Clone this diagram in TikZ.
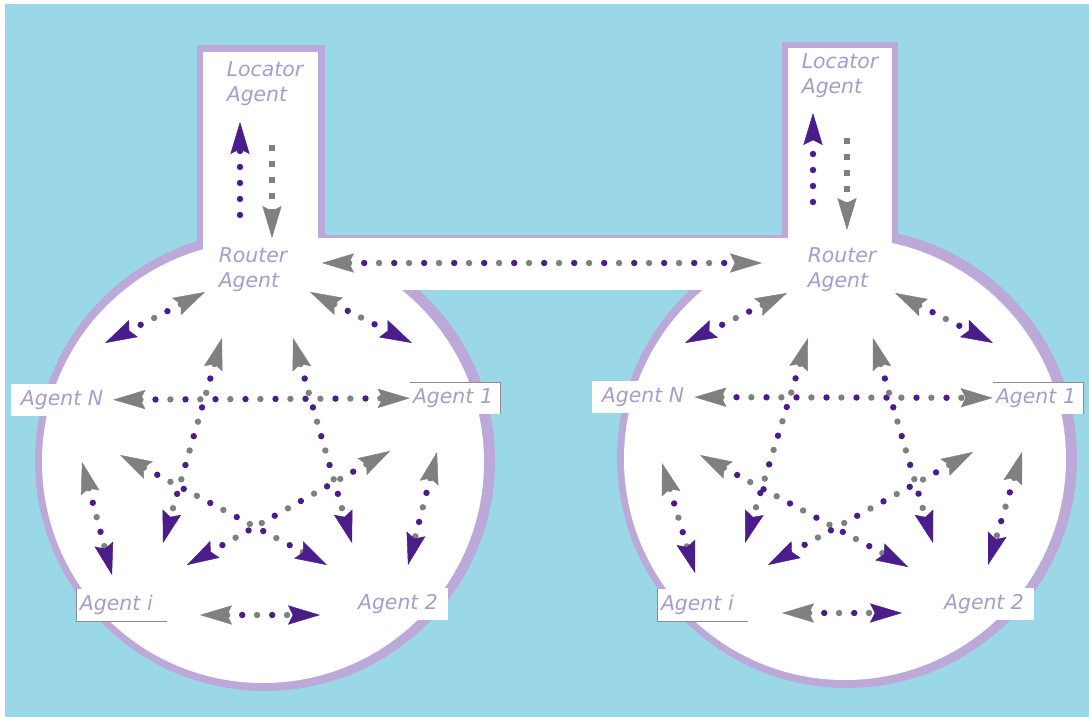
\documentclass[tikz,border=0pt]{standalone}
\usepackage{fontspec}
\setmainfont{DejaVu Sans}
\usetikzlibrary{arrows.meta}
\definecolor{netblue}{HTML}{9AD8E8}
\definecolor{netrim}{HTML}{BCA9D9}
\definecolor{netlabel}{HTML}{A89CC8}
\definecolor{netgrey}{HTML}{808080}
\definecolor{netpurple}{HTML}{4A1D8A}
\definecolor{netframe}{HTML}{8C8C8C}

\begin{document}
\begin{tikzpicture}[
  x=0.25mm, y=-0.25mm,
  font=\fontsize{14.5}{18}\selectfont\itshape,
  tag/.style={text=netlabel, align=left},
  agent/.style={tag, fill=white, inner xsep=2.5mm, inner ysep=1.5mm},
  framed/.style={agent, text width=21mm, inner xsep=0.75mm, minimum height=7mm},
  dart/.tip={Stealth[length=8mm, width=4.8mm, inset=1.2mm, line width=0.3pt]},
  gdots/.style={netgrey, line width=1.6mm, line cap=round, dash pattern=on 0pt off 7.5mm},
  pdots/.style={netpurple, line width=1.6mm, line cap=round, dash pattern=on 0pt off 7.5mm, dash phase=3.75mm},
  gline/.style={gdots, dart-, shorten >=6.8mm},
  pline/.style={pdots, -dart, shorten <=6.8mm},
  both/.style={shorten <=6.8mm, shorten >=6.8mm},
  solo/.style={line width=1.6mm}
]
\useasboundingbox (0,0) rectangle (1089,717);

% background
\fill[white] (0,0) rectangle (1089,717);
\fill[netblue] (5,4) rectangle (1089,717);

% rims of the two platforms
\fill[netrim] (265,461) circle (230);
\fill[netrim] (847,458) circle (230);
\fill[netrim] (197,45) rectangle (325,280);
\fill[netrim] (782,42) rectangle (898,280);
\fill[netrim] (300,235) rectangle (820,290);
% white bodies
\fill[white] (263,462) circle (221);
\fill[white] (845,459) circle (221);
\fill[white] (203,52) rectangle (318,280);
\fill[white] (788,48) rectangle (892,280);
\fill[white] (300,238) rectangle (820,290);

% left platform
\node[tag] (lloc) at (265,84) {Locator\\Agent};
\node[tag] (lrouter) at (253,270) {Router\\Agent};
\node[agent] (lN) at (62,400) {Agent N};
\node[framed] (l1) at (455,398) {Agent 1};
\node[framed] (li) at (122,605) {Agent i};
\node[agent] (l2) at (398,604) {Agent 2};

% right platform
\node[tag] (rloc) at (840,76) {Locator\\Agent};
\node[tag] (rrouter) at (842,270) {Router\\Agent};
\node[agent] (rN) at (643,397) {Agent N};
\node[framed] (r1) at (1038,398) {Agent 1};
\node[framed] (ri) at (703,605) {Agent i};
\node[agent] (r2) at (984,604) {Agent 2};

% free ends, left platform
\coordinate (lupa) at (240,215); \coordinate (lupb) at (240,122);
\coordinate (ldna) at (272,145); \coordinate (ldnb) at (272,238);
\coordinate (lRNg) at (205,292); \coordinate (lRNp) at (105,343);
\coordinate (lR1g) at (310,292); \coordinate (lR1p) at (412,343);
\coordinate (lRig) at (222,338); \coordinate (lRip) at (163,543);
\coordinate (lR2g) at (293,338); \coordinate (lR2p) at (352,543);
\coordinate (lN2g) at (120,455); \coordinate (lN2p) at (327,565);
\coordinate (l1ig) at (390,451); \coordinate (l1ip) at (187,565);
\coordinate (lNig) at (82,462);  \coordinate (lNip) at (112,575);
\coordinate (l12g) at (437,452); \coordinate (l12p) at (408,565);
\coordinate (li2g) at (200,615); \coordinate (li2p) at (320,615);

% free ends, right platform
\coordinate (rupa) at (813,202); \coordinate (rupb) at (813,113);
\coordinate (rdna) at (847,138); \coordinate (rdnb) at (847,230);
\coordinate (rRNg) at (787,293); \coordinate (rRNp) at (685,343);
\coordinate (rR1g) at (895,293); \coordinate (rR1p) at (993,343);
\coordinate (rRig) at (808,338); \coordinate (rRip) at (745,543);
\coordinate (rR2g) at (873,338); \coordinate (rR2p) at (933,543);
\coordinate (rN2g) at (700,455); \coordinate (rN2p) at (908,567);
\coordinate (r1ig) at (973,452); \coordinate (r1ip) at (768,565);
\coordinate (rNig) at (662,463); \coordinate (rNip) at (695,573);
\coordinate (r12g) at (1022,452); \coordinate (r12p) at (988,565);
\coordinate (ri2g) at (782,613); \coordinate (ri2p) at (902,613);

% router to router
\coordinate (lbar) at (322,263); \coordinate (rbar) at (762,263);
\draw[gdots, dart-dart] (lbar) -- (rbar);
\draw[pdots, both] (lbar) -- (rbar);

% locator <-> router
\draw[netpurple, solo, line cap=round, dash pattern=on 0pt off 4mm, -dart] (lupa) -- (lupb);
\draw[netgrey, solo, line cap=butt, dash pattern=on 1.4mm off 2.6mm, -dart] (ldna) -- (ldnb);
\draw[netpurple, solo, line cap=round, dash pattern=on 0pt off 4mm, -dart] (rupa) -- (rupb);
\draw[netgrey, solo, line cap=butt, dash pattern=on 1.4mm off 2.6mm, -dart] (rdna) -- (rdnb);

% Agent N <-> Agent 1
\draw[gdots, dart-dart] (lN) -- (l1);
\draw[pdots, both] (lN) -- (l1);
\draw[gdots, dart-dart] (rN) -- (r1);
\draw[pdots, both] (rN) -- (r1);

% the other links of each platform
\draw[gline] (lRNg) -- (lRNp); \draw[pline] (lRNg) -- (lRNp);
\draw[gline] (lR1g) -- (lR1p); \draw[pline] (lR1g) -- (lR1p);
\draw[gline] (lRig) -- (lRip); \draw[pline] (lRig) -- (lRip);
\draw[gline] (lR2g) -- (lR2p); \draw[pline] (lR2g) -- (lR2p);
\draw[gline] (lN2g) -- (lN2p); \draw[pline] (lN2g) -- (lN2p);
\draw[gline] (l1ig) -- (l1ip); \draw[pline] (l1ig) -- (l1ip);
\draw[gline] (lNig) -- (lNip); \draw[pline] (lNig) -- (lNip);
\draw[gline] (l12g) -- (l12p); \draw[pline] (l12g) -- (l12p);
\draw[gline] (li2g) -- (li2p); \draw[pline] (li2g) -- (li2p);

\draw[gline] (rRNg) -- (rRNp); \draw[pline] (rRNg) -- (rRNp);
\draw[gline] (rR1g) -- (rR1p); \draw[pline] (rR1g) -- (rR1p);
\draw[gline] (rRig) -- (rRip); \draw[pline] (rRig) -- (rRip);
\draw[gline] (rR2g) -- (rR2p); \draw[pline] (rR2g) -- (rR2p);
\draw[gline] (rN2g) -- (rN2p); \draw[pline] (rN2g) -- (rN2p);
\draw[gline] (r1ig) -- (r1ip); \draw[pline] (r1ig) -- (r1ip);
\draw[gline] (rNig) -- (rNip); \draw[pline] (rNig) -- (rNip);
\draw[gline] (r12g) -- (r12p); \draw[pline] (r12g) -- (r12p);
\draw[gline] (ri2g) -- (ri2p); \draw[pline] (ri2g) -- (ri2p);

% half frames round two labels
\draw[netframe, thin] (l1.north west) -| (l1.south east);
\draw[netframe, thin] (li.north west) |- (li.south east);
\draw[netframe, thin] (r1.north west) -| (r1.south east);
\draw[netframe, thin] (ri.north west) |- (ri.south east);

\end{tikzpicture}
\end{document}
